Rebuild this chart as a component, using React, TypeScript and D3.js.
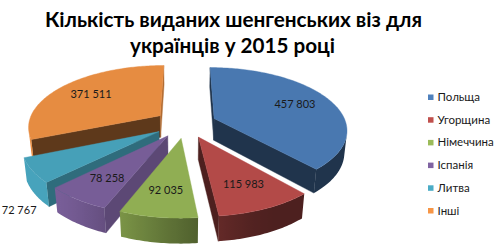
import React from 'react';
import * as d3 from 'd3';

const categories = ['Польща', 'Угорщина', 'Німеччина', 'Іспанія', 'Литва', 'Інші'];
const values = [457803, 115983, 92035, 78258, 72767, 371511];
const colors = ['#4F81BD', '#C0504D', '#9BBB59', '#8064A2', '#4BACC6', '#F79646'];
const titleLines = ['Кількість виданих шенгенських віз для', 'українців у 2015 році'];

const W = 500;
const H = 251;

// 3D projection parameters
const CX = 185.5;
const CY = 123.5;
const SCALE = 132;
const SIN_T = 0.462;
const COS_T = Math.sqrt(1 - SIN_T * SIN_T);
const DIST = 6 * COS_T;
const EXPLODE = 0.235;
const THICK = 0.19;
const CAM = [0, DIST * COS_T, DIST * SIN_T];

function project(X: number, Y: number, Z: number): [number, number] {
  const d = DIST - (Y * COS_T + Z * SIN_T);
  const k = DIST / d;
  return [CX + SCALE * X * k, CY + SCALE * (Y * SIN_T - Z * COS_T) * k];
}

const shade = (c: string, f: number) => d3.interpolateRgb('#000000', c)(f);
const smooth = (t: number) => {
  const x = Math.max(0, Math.min(1, t));
  return x * x * (3 - 2 * x);
};
const deg = (a: number) => ((a * 180) / Math.PI % 360 + 360) % 360;
const outerFactor = (th: number) => {
  const a = deg(th);
  if (a < 90) return 0.4;
  return 0.4 + 0.55 * smooth((a - 150) / 80);
};
const radialFactor = (nAngle: number) => {
  const a = deg(nAngle);
  if (a >= 90 && a <= 160) return 0.72 - 0.34 * smooth((a - 125) / 30);
  return 0.4;
};

const fmt = (v: number) => d3.format(',')(v).replace(/,/g, ' ');

export default function App() {
  const pieGen = d3.pie<number>().sort(null).value((d) => d);
  const arcs = pieGen(values);

  const slices = arcs.map((a, i) => {
    const a0 = a.startAngle;
    const a1 = a.endAngle;
    const mid = (a0 + a1) / 2;
    const ox = EXPLODE * Math.sin(mid);
    const oy = -EXPLODE * Math.cos(mid);
    const P3 = (th: number, r: number): [number, number] => [ox + r * Math.sin(th), oy - r * Math.cos(th)];
    const pt = (th: number, r: number, z: number) => {
      const [X, Y] = P3(th, r);
      return project(X, Y, z);
    };
    const N = Math.max(2, Math.ceil(((a1 - a0) * 180) / Math.PI));
    const samples = d3.range(N + 1).map((k) => a0 + ((a1 - a0) * k) / N);

    // top face
    const apexT = project(ox, oy, 0);
    const apexB = project(ox, oy, -THICK);
    const p = d3.path();
    p.moveTo(apexT[0], apexT[1]);
    samples.forEach((th) => {
      const q = pt(th, 1, 0);
      p.lineTo(q[0], q[1]);
    });
    p.closePath();

    // outer side faces, visible runs
    const visible = samples.map((th) => {
      const [X, Y] = P3(th, 1);
      const vx = CAM[0] - X;
      const vy = CAM[1] - Y;
      return vx * Math.sin(th) + vy * -Math.cos(th) > 0;
    });
    const runs: number[][] = [];
    let cur: number[] = [];
    samples.forEach((th, k) => {
      if (visible[k]) cur.push(th);
      else {
        if (cur.length > 1) runs.push(cur);
        cur = [];
      }
    });
    if (cur.length > 1) runs.push(cur);

    const sides = runs.map((run, ri) => {
      const top = run.map((th) => pt(th, 1, 0));
      const bot = run.map((th) => pt(th, 1, -THICK));
      const sp = d3.path();
      sp.moveTo(top[0][0], top[0][1]);
      top.slice(1).forEach((q) => sp.lineTo(q[0], q[1]));
      for (let k = bot.length - 1; k >= 0; k--) sp.lineTo(bot[k][0], bot[k][1]);
      sp.closePath();
      const xs = top.map((q) => q[0]);
      const x1 = d3.min(xs)!;
      const x2 = d3.max(xs)!;
      const stops = run
        .map((th, k) => ({ off: x2 > x1 ? (xs[k] - x1) / (x2 - x1) : 0, col: shade(colors[i], outerFactor(th)) }))
        .sort((m, n) => m.off - n.off);
      return { d: sp.toString(), id: `side-${i}-${ri}`, x1, x2, stops };
    });

    // radial faces
    const radials: { d: string; fill: string }[] = [];
    [
      { th: a0, n: a0 - Math.PI / 2 },
      { th: a1, n: a1 + Math.PI / 2 },
    ].forEach(({ th, n }) => {
      const [X, Y] = P3(th, 0.5);
      const vx = CAM[0] - X;
      const vy = CAM[1] - Y;
      if (vx * Math.sin(n) + vy * -Math.cos(n) <= 0) return;
      const o1 = pt(th, 1, 0);
      const o2 = pt(th, 1, -THICK);
      const rp = d3.path();
      rp.moveTo(apexT[0], apexT[1]);
      rp.lineTo(o1[0], o1[1]);
      rp.lineTo(o2[0], o2[1]);
      rp.lineTo(apexB[0], apexB[1]);
      rp.closePath();
      radials.push({ d: rp.toString(), fill: shade(colors[i], radialFactor(n)) });
    });

    const depth = oy - 0.5 * Math.cos(mid);
    const outside = a1 - a0 < 0.4;
    const lp = outside ? pt(mid, 1.0, -THICK) : pt(mid, 0.7, 0);
    return {
      i,
      top: p.toString(),
      topFill: shade(colors[i], 0.93),
      sides,
      radials,
      depth,
      label: {
        x: outside ? lp[0] + 1.5 : lp[0],
        y: outside ? lp[1] + 20 : lp[1] + 4,
        anchor: outside ? 'end' : 'middle',
        text: fmt(values[i]),
      },
    };
  });

  const ordered = [...slices].sort((a, b) => a.depth - b.depth);
  const legendY = d3.scalePoint<string>().domain(categories).range([97.5, 211]);

  return (
    <svg width={W} height={H} style={{ position: 'absolute', left: 0, top: 0, background: '#fff' }} fontFamily="Lato, 'Open Sans', sans-serif">
      <rect width={W} height={H} fill="#ffffff" />
      <defs>
        {slices.flatMap((s) =>
          s.sides.map((sd) => (
            <linearGradient key={sd.id} id={sd.id} gradientUnits="userSpaceOnUse" x1={sd.x1} x2={sd.x2} y1={0} y2={0}>
              {sd.stops.map((st, k) => (
                <stop key={k} offset={st.off} stopColor={st.col} />
              ))}
            </linearGradient>
          ))
        )}
      </defs>
      <text x={233.5} y={26.5} textAnchor="middle" fontWeight="bold" fontSize={21} textLength={377} lengthAdjust="spacingAndGlyphs" fill="#000">
        {titleLines[0]}
      </text>
      <text x={232.5} y={53} textAnchor="middle" fontWeight="bold" fontSize={21} textLength={205} lengthAdjust="spacingAndGlyphs" fill="#000">
        {titleLines[1]}
      </text>
      {ordered.map((s) => (
        <g key={s.i}>
          {s.radials.map((r, k) => (
            <path key={`r${k}`} d={r.d} fill={r.fill} stroke={r.fill} strokeWidth={0.4} />
          ))}
          {s.sides.map((sd) => (
            <path key={sd.id} d={sd.d} fill={`url(#${sd.id})`} />
          ))}
          <path d={s.top} fill={s.topFill} stroke={s.topFill} strokeWidth={0.4} />
        </g>
      ))}
      {slices.map((s) => (
        <text key={`l${s.i}`} x={s.label.x} y={s.label.y} textAnchor={s.label.anchor} fontSize={11} fill="#1a1a1a">
          {s.label.text}
        </text>
      ))}
      {categories.map((c, i) => (
        <g key={c}>
          <rect x={428} y={legendY(c)! - 3} width={5.5} height={5.5} fill={colors[i]} />
          <text x={437.5} y={legendY(c)! + 3.5} fontSize={11.5} fill="#1a1a1a">
            {c}
          </text>
        </g>
      ))}
    </svg>
  );
}
